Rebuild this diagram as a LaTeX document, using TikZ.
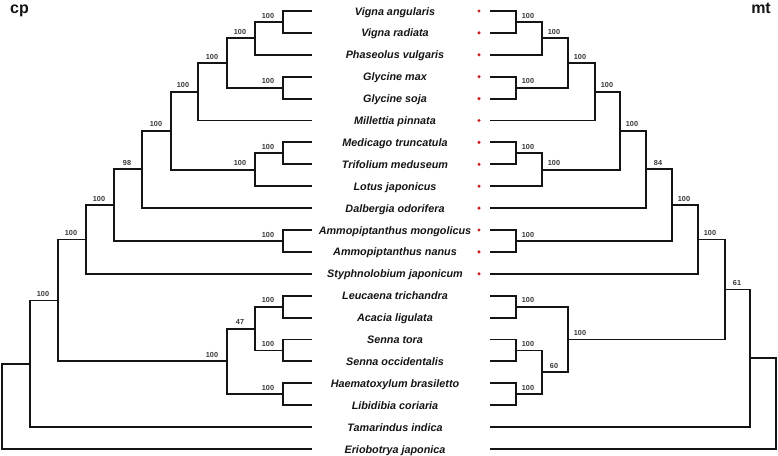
\documentclass[tikz,border=0pt]{standalone}
\usepackage{fontspec}
\setmainfont{Liberation Sans}
\definecolor{dotred}{RGB}{200,30,30}
\definecolor{ink}{RGB}{20,20,20}
\newcommand\supL[2]{\path (#1) ++(-15,-3.8) node[support] (sl#1) {#2};}
\newcommand\supR[2]{\path (#1) ++(12,-3.8) node[support] (sr#1) {#2};}
\begin{document}
\begin{tikzpicture}[x=1pt,y=-1pt,
  branch/.style={draw=ink,line width=1.9pt,line join=miter},
  taxon/.style={font=\bfseries\itshape\fontsize{10.8}{12}\selectfont,anchor=base,inner sep=0pt,text=ink},
  support/.style={font=\bfseries\fontsize{7.3}{8}\selectfont,anchor=base,inner sep=0pt,text=ink!85},
  reddot/.style={circle,fill=dotred,inner sep=0pt,minimum size=3.4pt},
  title/.style={font=\bfseries\fontsize{16}{18}\selectfont,inner sep=0pt,text=ink}]
\useasboundingbox (0,0) rectangle (778,455);
% rows
\foreach \i in {0,...,20}{
  \pgfmathsetmacro\yy{11+21.9*\i}
  \coordinate (lt\i) at (312,\yy);
  \coordinate (rt\i) at (490,\yy);
}
\foreach \i in {0,...,12}{
  \pgfmathsetmacro\yy{11+21.9*\i}
  \node[reddot] (d\i) at (479,\yy) {};
}
% taxa
\foreach \i/\t in {0/Vigna angularis,1/Vigna radiata,2/Phaseolus vulgaris,3/Glycine max,4/Glycine soja,5/Millettia pinnata,6/Medicago truncatula,7/Trifolium meduseum,8/Lotus japonicus,9/Dalbergia odorifera,10/Ammopiptanthus mongolicus,11/Ammopiptanthus nanus,12/Styphnolobium japonicum,13/Leucaena trichandra,14/Acacia ligulata,15/Senna tora,16/Senna occidentalis,17/Haematoxylum brasiletto,18/Libidibia coriaria,19/Tamarindus indica,20/Eriobotrya japonica}{
  \pgfmathsetmacro\yy{15+21.9*\i}
  \node[taxon] (t\i) at (395,\yy) {\t};
}
\node[title,anchor=base west] (cp) at (10,13) {cp};
\node[title,anchor=base east] (mt) at (771,13) {mt};
% left tree internal nodes
\coordinate (A) at (283,21.95);
\coordinate (B) at (255,38.375);
\coordinate (G) at (283,87.65);
\coordinate (C) at (227,63.01);
\coordinate (D) at (198,91.76);
\coordinate (M) at (283,153.35);
\coordinate (L) at (255,169.78);
\coordinate (E) at (171,130.77);
\coordinate (F) at (142,169.43);
\coordinate (AM) at (283,240.95);
\coordinate (H) at (114,205.19);
\coordinate (I) at (86,239.5);
\coordinate (LA) at (283,306.65);
\coordinate (SS) at (283,350.45);
\coordinate (N47) at (255,328.55);
\coordinate (HL) at (283,394.25);
\coordinate (N) at (227,361.4);
\coordinate (J) at (58,300.45);
\coordinate (K) at (30,363.78);
\coordinate (R) at (2,406.39);
\draw[branch] (lt0) -| (A) |- (lt1);
\draw[branch] (A) -| (B) |- (lt2);
\draw[branch] (lt3) -| (G) |- (lt4);
\draw[branch] (B) -| (C) |- (G);
\draw[branch] (C) -| (D) |- (lt5);
\draw[branch] (lt6) -| (M) |- (lt7);
\draw[branch] (M) -| (L) |- (lt8);
\draw[branch] (D) -| (E) |- (L);
\draw[branch] (E) -| (F) |- (lt9);
\draw[branch] (lt10) -| (AM) |- (lt11);
\draw[branch] (F) -| (H) |- (AM);
\draw[branch] (H) -| (I) |- (lt12);
\draw[branch] (lt13) -| (LA) |- (lt14);
\draw[branch] (lt15) -| (SS) |- (lt16);
\draw[branch] (LA) -| (N47) |- (SS);
\draw[branch] (lt17) -| (HL) |- (lt18);
\draw[branch] (N47) -| (N) |- (HL);
\draw[branch] (I) -| (J) |- (N);
\draw[branch] (J) -| (K) |- (lt19);
\draw[branch] (K) -| (R) |- (lt20);
\supL{A}{100}\supL{B}{100}\supL{G}{100}\supL{C}{100}\supL{D}{100}
\supL{M}{100}\supL{L}{100}\supL{E}{100}\supL{F}{98}\supL{AM}{100}
\supL{H}{100}\supL{I}{100}\supL{LA}{100}\supL{SS}{100}\supL{N47}{47}
\supL{HL}{100}\supL{N}{100}\supL{J}{100}
% right tree internal nodes
\coordinate (a) at (516,21.95);
\coordinate (b) at (542,38.375);
\coordinate (g) at (516,87.65);
\coordinate (c) at (568,63.01);
\coordinate (d) at (595,91.76);
\coordinate (m) at (516,153.35);
\coordinate (l) at (542,169.78);
\coordinate (e) at (620,130.77);
\coordinate (f) at (646,169.43);
\coordinate (am) at (516,240.95);
\coordinate (h) at (672,205.19);
\coordinate (i) at (698,239.5);
\coordinate (la) at (516,306.65);
\coordinate (ss) at (516,350.45);
\coordinate (hl) at (516,394.25);
\coordinate (n60) at (542,372.35);
\coordinate (n) at (568,339.5);
\coordinate (j) at (725,289.5);
\coordinate (k) at (750,358.3);
\coordinate (r) at (776,403.65);
\draw[branch] (rt0) -| (a) |- (rt1);
\draw[branch] (a) -| (b) |- (rt2);
\draw[branch] (rt3) -| (g) |- (rt4);
\draw[branch] (b) -| (c) |- (g);
\draw[branch] (c) -| (d) |- (rt5);
\draw[branch] (rt6) -| (m) |- (rt7);
\draw[branch] (m) -| (l) |- (rt8);
\draw[branch] (d) -| (e) |- (l);
\draw[branch] (e) -| (f) |- (rt9);
\draw[branch] (rt10) -| (am) |- (rt11);
\draw[branch] (f) -| (h) |- (am);
\draw[branch] (h) -| (i) |- (rt12);
\draw[branch] (rt13) -| (la) |- (rt14);
\draw[branch] (rt15) -| (ss) |- (rt16);
\draw[branch] (rt17) -| (hl) |- (rt18);
\draw[branch] (ss) -| (n60) |- (hl);
\draw[branch] (la) -| (n) |- (n60);
\draw[branch] (i) -| (j) |- (n);
\draw[branch] (j) -| (k) |- (rt19);
\draw[branch] (k) -| (r) |- (rt20);
\supR{a}{100}\supR{b}{100}\supR{g}{100}\supR{c}{100}\supR{d}{100}
\supR{m}{100}\supR{l}{100}\supR{e}{100}\supR{f}{84}\supR{am}{100}
\supR{h}{100}\supR{i}{100}\supR{la}{100}\supR{ss}{100}\supR{hl}{100}
\supR{n60}{60}\supR{n}{100}\supR{j}{61}
\end{tikzpicture}
\end{document}
